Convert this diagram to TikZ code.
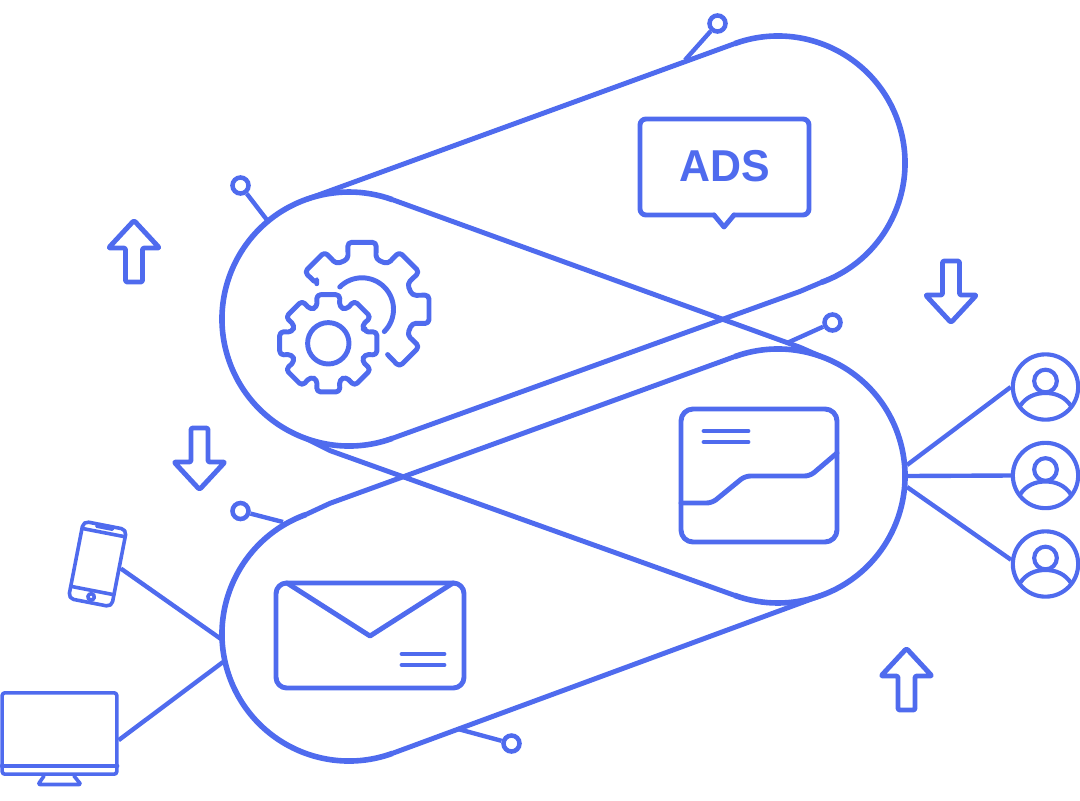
\documentclass[tikz,border=0pt]{standalone}
\usepackage{fontspec}
\setmainfont{Liberation Sans}
\definecolor{inkcol}{HTML}{4F6BEE}
\tikzset{
  capsule/.style={draw=inkcol, line width=4.2pt, line join=round},
  capline/.style={draw=inkcol, line width=3.7pt, line cap=round, line join=round},
  wire/.style={draw=inkcol, line width=3.3pt},
  outline/.style={draw=inkcol, line width=3.7pt, line join=round, line cap=round},
  device/.style={draw=inkcol, line width=2.7pt, line join=round, line cap=round},
  knob/.style={circle, draw=inkcol, line width=3.4pt, minimum size=12pt, inner sep=0pt},
  face/.style={circle, draw=inkcol, line width=3.1pt, minimum size=49pt, inner sep=0pt},
  head/.style={circle, draw=inkcol, line width=3.1pt, minimum size=17pt, inner sep=0pt}
}

\begin{document}
\begin{tikzpicture}[x=0.75pt, y=-0.75pt]
    \useasboundingbox (0, 0) rectangle (1080, 800);

    % capsules
    \coordinate (gearc) at (349, 319);
    \coordinate (adsc) at (778, 163);
    \coordinate (chartc) at (778, 476);
    \coordinate (mailc) at (349, 634);

    \draw[capsule] ([shift={(70:127)}]gearc) arc[start angle=70, end angle=290, radius=127];
    \draw[capsule] ([shift={(250:127)}]adsc) arc[start angle=250, end angle=430, radius=127];
    \draw[capsule] ([shift={(250:127)}]chartc) arc[start angle=250, end angle=470, radius=127];
    \draw[capsule] ([shift={(250:127)}]mailc) arc[start angle=250, end angle=70, radius=127];

    \draw[capline] ([shift={(250:127)}]gearc) -- ([shift={(250:127)}]adsc);
    \draw[capline] (392.4, 438.3) -- (800, 291.4) -- ([shift={(70:127)}]adsc);
    \draw[capline] ([shift={(290:127)}]gearc) -- (800, 347.3) -- ([shift={(290:127)}]chartc);
    \draw[capline] ([shift={(110:127)}]gearc) -- (330, 450.6) -- ([shift={(110:127)}]chartc);
    \draw[capline] ([shift={(250:127)}]mailc) -- (330, 503.3) -- ([shift={(250:127)}]chartc);
    \draw[capline] ([shift={(70:127)}]mailc) -- ([shift={(70:127)}]chartc);

    % knobs on the capsules
    \node[knob] (knob1) at (717.5, 23.5) {};
    \node[knob] (knob2) at (240.5, 185.5) {};
    \node[knob] (knob3) at (832.5, 322.5) {};
    \node[knob] (knob4) at (240.5, 511) {};
    \node[knob] (knob5) at (511.5, 743.5) {};
    \coordinate (foot1) at (685, 60);
    \coordinate (foot2) at (267, 220);
    \coordinate (foot3) at (787, 343);
    \coordinate (foot4) at (283, 522);
    \coordinate (foot5) at (458, 729);
    \draw[wire] (knob1) -- (foot1);
    \draw[wire] (knob2) -- (foot2);
    \draw[wire] (knob3) -- (foot3);
    \draw[wire] (knob4) -- (foot4);
    \draw[wire] (knob5) -- (foot5);

    % gears
    \begin{scope}[shift={(362, 309.3)}]
      \draw[outline, rounded corners=3pt] (209.5:52)
        \foreach \a in {225, 270, 315, 360, 405} {
          -- (\a-15.5:52) -- (\a-12:68.5) -- (\a+12:68.5) -- (\a+15.5:52)
        };
      \draw[outline] (225:31.5) arc[start angle=225, end angle=405, radius=31.5];
    \end{scope}
    \begin{scope}[shift={(328.3, 343.3)}]
      \draw[outline, rounded corners=3pt] (-17:38)
        \foreach \a in {0, 45, 90, 135, 180, 225, 270, 315} {
          -- (\a-17:38) -- (\a-13.5:50) -- (\a+13.5:50) -- (\a+17:38)
        } -- cycle;
      \draw[outline] (0, 0) circle[radius=20.7];
    \end{scope}

    % ads bubble
    \draw[outline, rounded corners=4.5pt] (714, 215) -- (640, 215) -- (640, 119) -- (809, 119) -- (809, 215) -- (734, 215);
    \draw[outline] (714, 215) -- (724, 227) -- (734, 215);
    \node[text=inkcol, font=\bfseries\fontsize{33.5}{36}\selectfont, inner sep=0pt] (adslabel) at (725, 166) {\scalebox{0.96}[1]{ADS}};

    % chart
    \draw[outline, rounded corners=9pt] (681, 409) rectangle (837, 542);
    \draw[outline] (704, 431) -- (748, 431);
    \draw[outline] (704, 442) -- (748, 442);
    \draw[outline, rounded corners=4pt] (681, 503) -- (712, 503) -- (745, 476) -- (810, 476) -- (837, 453);

    % envelope
    \draw[outline, rounded corners=8pt] (276, 583) rectangle (464, 688);
    \draw[outline] (287, 583) -- (370, 636) -- (453, 583);
    \draw[outline] (402, 654) -- (444, 654);
    \draw[outline] (402, 665) -- (444, 665);

    % arrows
    \draw[outline, rounded corners=1.5pt] (134, 220.5) -- ++(25.5, 27.5) -- ++(-17, 0) -- ++(0, 34) -- ++(-17, 0) -- ++(0, -34) -- ++(-17, 0) -- cycle;
    \draw[outline, rounded corners=1.5pt] (906.5, 648.5) -- ++(25.5, 27.5) -- ++(-17, 0) -- ++(0, 34) -- ++(-17, 0) -- ++(0, -34) -- ++(-17, 0) -- cycle;
    \draw[outline, rounded corners=1.5pt] (951, 322.5) -- ++(25.5, -27.5) -- ++(-17, 0) -- ++(0, -34) -- ++(-17, 0) -- ++(0, 34) -- ++(-17, 0) -- cycle;
    \draw[outline, rounded corners=1.5pt] (199.5, 489.5) -- ++(25.5, -27.5) -- ++(-17, 0) -- ++(0, -34) -- ++(-17, 0) -- ++(0, 34) -- ++(-17, 0) -- cycle;

    % users
    \node[face] (user1) at (1045.5, 387) {};
    \node[face] (user2) at (1045.5, 475.5) {};
    \node[face] (user3) at (1045.5, 564) {};
    \node[head] (head1) at (1045.5, 381) {};
    \node[head] (head2) at (1045.5, 469.5) {};
    \node[head] (head3) at (1045.5, 558) {};
    \draw[device, line width=3.1pt] (1020, 406) .. controls (1026, 397) and (1035, 393) .. (1045.5, 393) .. controls (1056, 393) and (1065, 397) .. (1071, 406);
    \draw[device, line width=3.1pt] (1020, 494.5) .. controls (1026, 485.5) and (1035, 481.5) .. (1045.5, 481.5) .. controls (1056, 481.5) and (1065, 485.5) .. (1071, 494.5);
    \draw[device, line width=3.1pt] (1020, 583) .. controls (1026, 574) and (1035, 570) .. (1045.5, 570) .. controls (1056, 570) and (1065, 574) .. (1071, 583);

    \coordinate (hubr1) at (907, 465);
    \coordinate (hubr2) at (907, 476);
    \coordinate (hubr3) at (907, 487);
    \draw[wire] (hubr1) -- (user1.west);
    \draw[wire] (hubr2) -- (user2.west);
    \draw[wire] (hubr3) -- (user3.173);

    % phone
    \node[device, rectangle, rounded corners=4pt, minimum width=33pt, minimum height=59pt, inner sep=0pt, rotate=-11] (phone) at (97.5, 564) {};
    \begin{scope}[shift={(97.5, 564)}, rotate=-11]
      \draw[device] (-22, -32) -- (22, -32);
      \draw[device] (-22, 27) -- (22, 27);
      \draw[device] (-8, -37) -- (8, -37);
      \draw[device] (0, 33.5) circle[radius=3.2];
    \end{scope}

    % monitor
    \node[device, rectangle, rounded corners=2pt, minimum width=86pt, minimum height=61pt, inner sep=0pt] (screen) at (59.5, 733.5) {};
    \draw[device] (1.5, 766) -- (117.5, 766);
    \draw[device, rounded corners=1.5pt] (44, 776) -- (38, 784.5) -- (81, 784.5) -- (74, 776);

    \coordinate (hubl1) at (221, 639);
    \coordinate (hubl2) at (223, 662);
    \draw[wire] (phone.east) -- (hubl1);
    \draw[wire] ([yshift=-5pt]screen.east) -- (hubl2);

\end{tikzpicture}
\end{document}
